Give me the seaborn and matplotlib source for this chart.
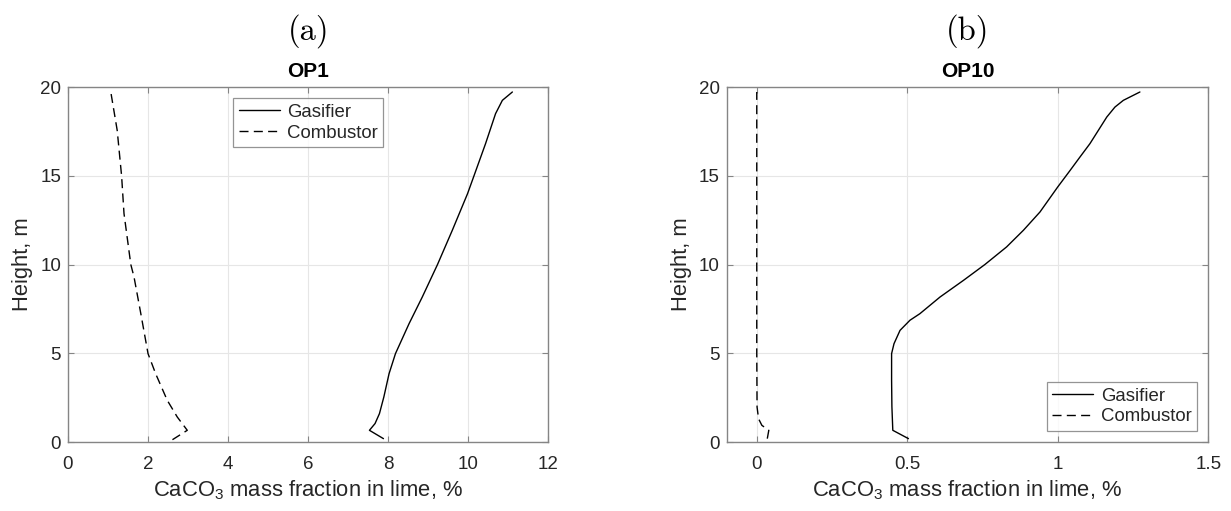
import matplotlib
matplotlib.use("Agg")
import matplotlib.pyplot as plt
import seaborn as sns
import pandas as pd

# CaCO3 mass fraction profiles along riser height
op1_gas_x = [7.88, 7.53, 7.67, 7.78, 7.89, 8.02, 8.18, 8.52, 8.85, 9.23, 9.60, 9.98, 10.14, 10.43, 10.68, 10.85, 11.10]
op1_gas_h = [0.19, 0.66, 1.04, 1.60, 2.54, 3.85, 4.98, 6.67, 8.17, 10.0, 11.93, 13.99, 14.99, 16.81, 18.50, 19.25, 19.72]
op1_com_x = [2.61, 2.98, 2.73, 2.48, 2.19, 2.00, 1.82, 1.65, 1.57, 1.40, 1.34, 1.23, 1.07]
op1_com_h = [0.13, 0.66, 1.41, 2.35, 3.85, 4.98, 7.23, 9.30, 10.0, 12.87, 14.99, 17.56, 19.72]

op10_gas_x = [0.504, 0.452, 0.449, 0.448, 0.448, 0.456, 0.476, 0.509, 0.542, 0.609, 0.687, 0.758, 0.830, 0.886, 0.941, 1.000, 1.041, 1.074, 1.107, 1.163, 1.190, 1.218, 1.273]
op10_gas_h = [0.19, 0.66, 2.00, 3.48, 4.98, 5.54, 6.29, 6.86, 7.23, 8.17, 9.11, 10.0, 10.99, 11.93, 12.96, 14.37, 15.30, 16.06, 16.81, 18.31, 18.87, 19.25, 19.72]
op10_com_x = [0.035, 0.040, 0.017, 0.006, 0.001, 0.000, 0.000, 0.000]
op10_com_h = [0.19, 0.66, 0.94, 1.31, 1.97, 5.00, 12.0, 19.72]

panels = ["(a)", "(b)"]
titles = ["OP1", "OP10"]
xlims = [(0, 12), (-0.1, 1.5)]
xticks = [[0, 2, 4, 6, 8, 10, 12], [0, 0.5, 1, 1.5]]
xticklabels = [["0", "2", "4", "6", "8", "10", "12"], ["0", "0.5", "1", "1.5"]]
yticks = [0, 5, 10, 15, 20]
series_names = ["Gasifier", "Combustor"]

sns.set_theme(style="white")
plt.rcParams["font.family"] = ["Liberation Sans", "DejaVu Sans"]
plt.rcParams["mathtext.fontset"] = "custom"
plt.rcParams["mathtext.rm"] = "Liberation Sans"
plt.rcParams["mathtext.it"] = "Liberation Sans:italic"

fig = plt.figure(figsize=(12.31, 5.11), dpi=100)
ax_pos = [[0.0552, 0.135, 0.3903, 0.6947], [0.5903, 0.135, 0.3912, 0.6947]]

data = [
    [(op1_gas_x, op1_gas_h), (op1_com_x, op1_com_h)],
    [(op10_gas_x, op10_gas_h), (op10_com_x, op10_com_h)],
]
legend_locs = ["upper center", "lower right"]
edge = "#858585"
txt = "#262626"

for i in range(2):
    ax = fig.add_axes(ax_pos[i])
    for (xs, hs), name, ls in zip(data[i], series_names, ["-", "--"]):
        df = pd.DataFrame({"x": xs, "h": hs})
        sns.lineplot(data=df, x="x", y="h", sort=False, estimator=None, ax=ax,
                     color="black", linewidth=1.0, label=name)
        line = ax.lines[-1]
        line.set_linestyle(ls)
        if ls == "--":
            line.set_dashes([6.5, 3.8])
    ax.set_xlim(*xlims[i])
    ax.set_ylim(0, 20)
    ax.set_xticks(xticks[i])
    ax.set_xticklabels(xticklabels[i])
    ax.set_yticks(yticks)
    ax.grid(True, color="#e6e6e6", linewidth=0.8)
    ax.tick_params(direction="in", length=4, width=0.8, colors=edge,
                   labelcolor=txt, labelsize=13.5, top=True, right=True,
                   bottom=True, left=True)
    ax.tick_params(axis="x", pad=10)
    ax.tick_params(axis="y", pad=5)
    for s in ax.spines.values():
        s.set_color(edge)
        s.set_linewidth(1.0)
        s.set_visible(True)
    ax.set_xlabel(r"CaCO$_3$ mass fraction in lime, %", fontsize=15.8, color=txt, labelpad=4)
    ax.set_ylabel("Height, m", fontsize=15.8, color=txt, labelpad=5)
    ax.set_title(titles[i], fontsize=15, fontweight="bold", color="black", pad=7)
    leg = ax.legend(loc=legend_locs[i], fontsize=13.4, frameon=True, fancybox=False,
                    handlelength=2.2, handletextpad=0.4, borderpad=0.3,
                    labelspacing=0.2, borderaxespad=0.6)
    leg.get_frame().set_edgecolor("#7a7a7a")
    leg.get_frame().set_linewidth(0.9)
    for t in leg.get_texts():
        t.set_color(txt)
    cx = ax_pos[i][0] + ax_pos[i][2] / 2
    fig.text(cx, 1 - 31 / 511, panels[i], family="cmr10", fontsize=23.5,
             ha="center", va="center", color="black")

fig.savefig("out.png", dpi=100, facecolor="white")
